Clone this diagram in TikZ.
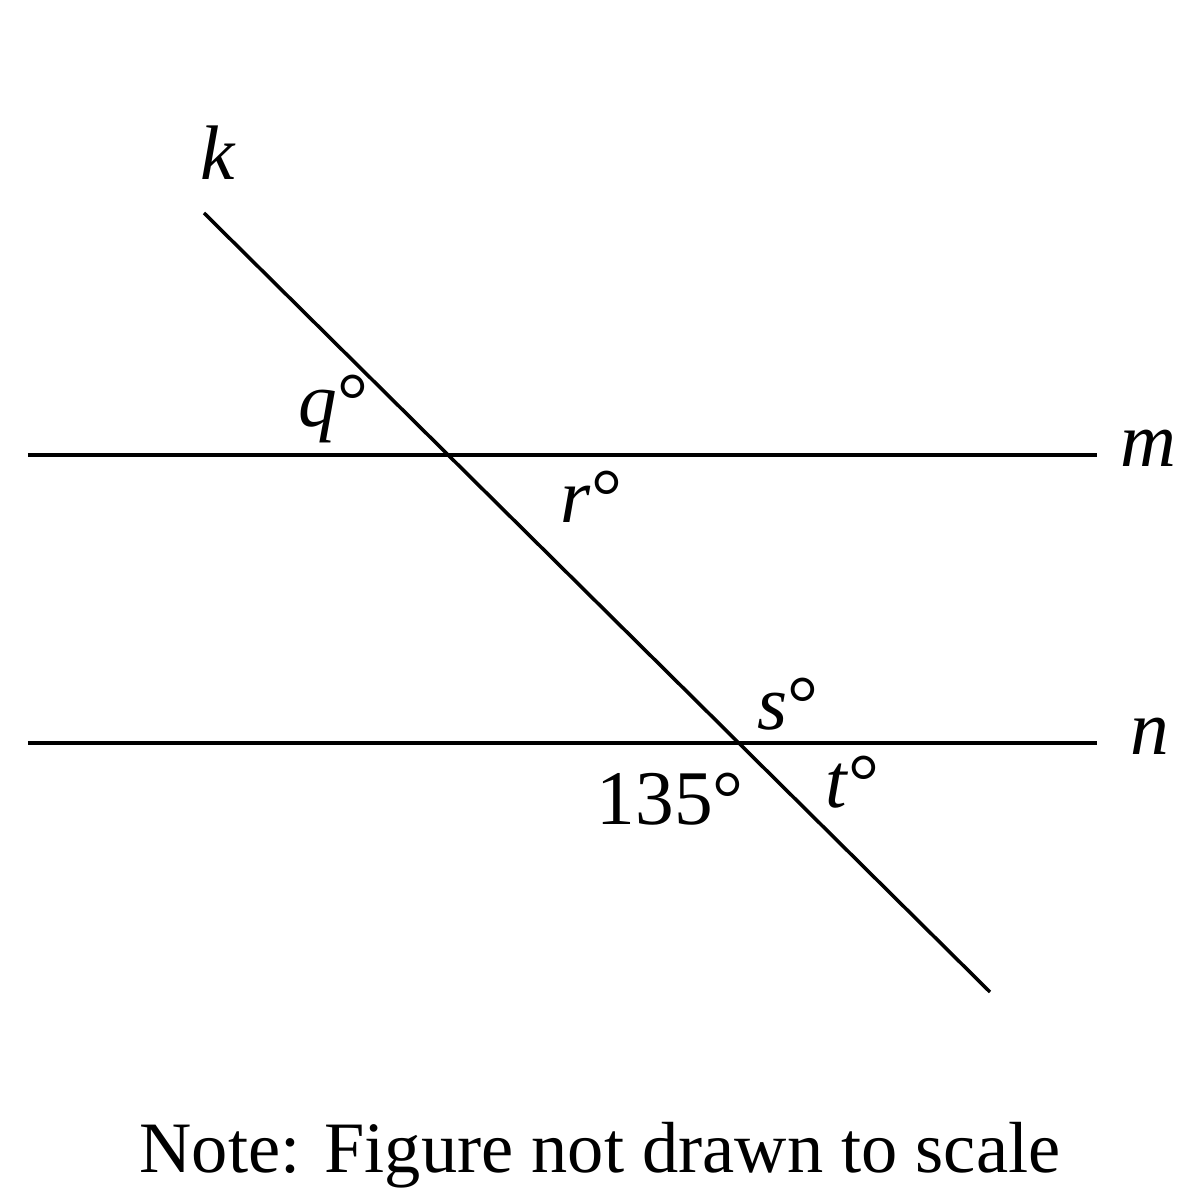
\documentclass[tikz,border=0pt]{standalone}
\usepackage{fontspec}
\setmainfont{Liberation Serif}

\begin{document}
\begin{tikzpicture}[
    ln/.style={line width=1pt},
    lbl/.style={font=\fontsize{22}{26}\selectfont, inner sep=0pt, anchor=base west},
    note/.style={font=\fontsize{20.6}{25}\selectfont, inner sep=0pt, anchor=base}]
    \useasboundingbox (0,0) rectangle (12,12);
    % the two parallel lines and the transversal
    \coordinate (mL) at (0.28,7.45);
    \coordinate (mR) at (10.97,7.45);
    \coordinate (nL) at (0.28,4.57);
    \coordinate (nR) at (10.97,4.57);
    \coordinate (kT) at (2.04,9.87);
    \coordinate (kB) at (9.90,2.08);
    \draw[ln] (mL) -- (mR);
    \draw[ln] (nL) -- (nR);
    \draw[ln] (kT) -- (kB);
    % line names
    \node[lbl] (k) at (2.00,10.20) {\textit{k}};
    \node[lbl] (m) at (11.20,7.33) {\textit{m}};
    \node[lbl] (n) at (11.30,4.45) {\textit{n}};
    % angles
    \node[lbl] (q) at (2.98,7.73) {\textit{q}°};
    \node[lbl] (r) at (5.60,6.77) {\textit{r}°};
    \node[lbl] (s) at (7.57,4.70) {\textit{s}°};
    \node[lbl] (a) at (5.96,3.75) {135°};
    \node[lbl] (t) at (8.25,3.92) {\textit{t}°};
    \node[note] (nt) at (6.00,0.28) {Note: Figure not drawn to scale};
\end{tikzpicture}
\end{document}
